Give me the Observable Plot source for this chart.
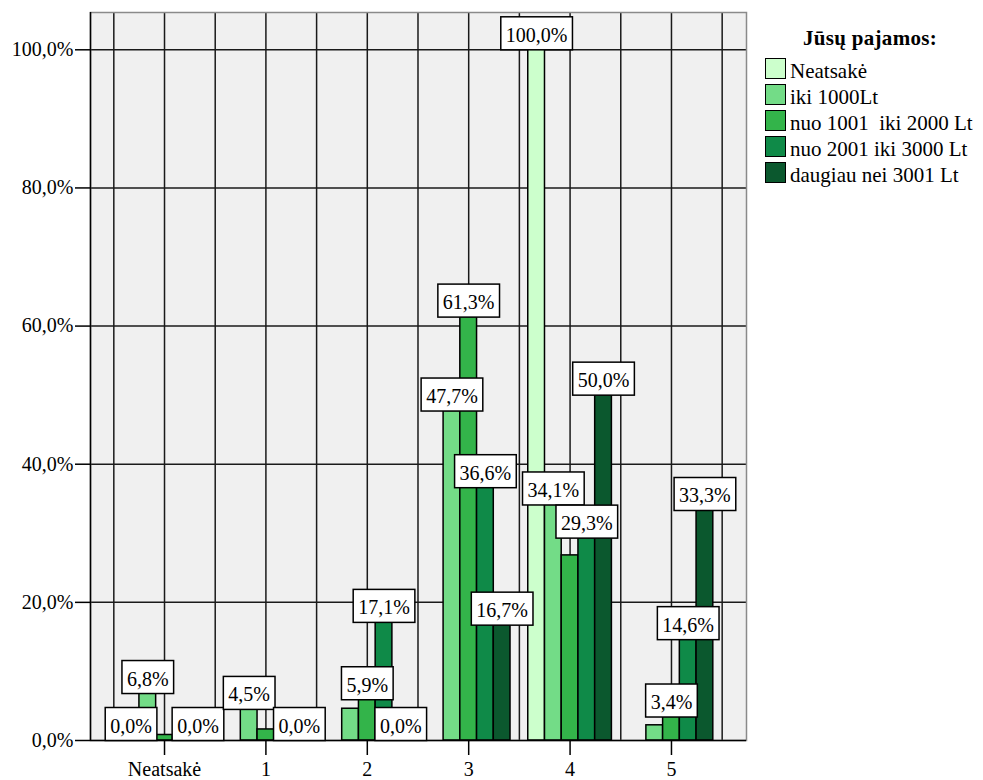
<!DOCTYPE html>
<html>
<head>
<meta charset="utf-8">
<script src="https://cdn.jsdelivr.net/npm/d3@7"></script>
<script src="https://cdn.jsdelivr.net/npm/@observablehq/plot@0.6"></script>
<style>
  body { margin: 0; background: #fff; }
  #chart { position: relative; width: 983px; height: 780px; font-family: "Liberation Serif", "Times New Roman", serif; color: #000; }
  #chart svg { position: absolute; left: 0; top: 0; }
  #legend { position: absolute; left: 765px; top: 25px; width: 215px; }
  #legend .title { font-weight: bold; font-size: 21px; line-height: 26px; text-align: center; width: 210px; letter-spacing: 0.3px; }
  #legend .rows { margin-top: 7px; }
  #legend .row { display: flex; align-items: flex-start; height: 26px; font-size: 21px; line-height: 26px; white-space: pre; }
  #legend .sw { box-sizing: border-box; width: 21px; height: 21px; border: 1.5px solid #000; margin-right: 4px; margin-top: 0px; }
</style>
</head>
<body>
<div id="chart"></div>
<script>
// Answer categories on the x axis
const categories = ["Neatsakė", "1", "2", "3", "4", "5"];

// Income groups (legend "Jūsų pajamos:")
const seriesNames = ["Neatsakė", "iki 1000Lt", "nuo 1001  iki 2000 Lt", "nuo 2001 iki 3000 Lt", "daugiau nei 3001 Lt"];
const seriesColors = ["#ccffcc", "#73dc87", "#33b44a", "#0f8a48", "#0b582e"];

// Percent within each income group, per category (null = no bar)
const valuesNeatsake = [0.0, null, null, null, 100.0, null];
const valuesIki1000  = [6.8, 4.5, 4.6, 47.7, 34.1, 2.2];
const values1001     = [0.8, 1.6, 5.9, 61.3, 26.8, 3.4];
const values2001     = [null, null, 17.1, 36.6, 29.3, 14.6];
const values3001     = [0.0, 0.0, 0.0, 16.7, 50.0, 33.3];
const seriesValues = [valuesNeatsake, valuesIki1000, values1001, values2001, values3001];

// Bars that carry a value label: [series index, category index]
const labelledBars = [
  [0, 0], [1, 0], [4, 0],
  [1, 1], [4, 1],
  [2, 2], [3, 2], [4, 2],
  [1, 3], [2, 3], [3, 3], [4, 3],
  [0, 4], [1, 4], [3, 4], [4, 4],
  [2, 5], [3, 5], [4, 5]
];

const yTicks = [0, 20, 40, 60, 80, 100];

// Build tables for the marks
const barWidth = 0.165; // share of one category step taken by each bar
const bars = [];
seriesValues.forEach((vals, si) => vals.forEach((v, ci) => {
  if (v != null && v > 0) bars.push({si, ci, series: seriesNames[si], value: v});
}));
const labels = labelledBars.map(([si, ci]) => ({si, ci, value: seriesValues[si][ci]}));
const fmt = v => v.toFixed(1).replace(".", ",") + "%";
const gridX = d3.range(-0.5, categories.length, 0.5);

const plot = Plot.plot({
  width: 983,
  height: 780,
  marginLeft: 90,
  marginRight: 237,
  marginTop: 12,
  marginBottom: 40,
  style: {fontFamily: "Liberation Serif, Times New Roman, serif", fontSize: "20px", background: "transparent", color: "#000"},
  x: {type: "linear", domain: [-0.73, 5.74], axis: null},
  y: {domain: [0, 105.4], axis: null},
  color: {domain: seriesNames, range: seriesColors},
  marks: [
    Plot.frame({fill: "#f0f0f0"}),
    Plot.ruleX(gridX, {stroke: "#1a1a1a", strokeWidth: 1.5}),
    Plot.ruleY(yTicks.slice(1), {stroke: "#1a1a1a", strokeWidth: 1.5}),
    Plot.frame({stroke: "#8a8a8a", strokeWidth: 1.5}),
    Plot.rectY(bars, {
      x1: d => d.ci + (d.si - 2.5) * barWidth,
      x2: d => d.ci + (d.si - 1.5) * barWidth,
      y1: 0,
      y2: "value",
      fill: "series",
      stroke: "#000",
      strokeWidth: 1.5
    }),
    Plot.ruleX([-0.73], {stroke: "#000", strokeWidth: 1.5}),
    Plot.ruleY([0], {stroke: "#000", strokeWidth: 1.5}),
    Plot.axisY({ticks: yTicks, tickFormat: fmt, tickSize: 15, tickPadding: 2, strokeWidth: 1.5, fontSize: 20, label: null}),
    Plot.axisX({ticks: d3.range(categories.length), tickFormat: i => categories[i], tickSize: 15, tickPadding: 6, strokeWidth: 1.5, fontSize: 20, label: null}),
    Plot.text(labels, {
      x: d => d.ci + (d.si - 2) * barWidth,
      y: "value",
      text: d => fmt(d.value),
      lineAnchor: "bottom",
      dy: -8,
      fontSize: 20,
      fill: "#000",
      ariaLabel: () => "value-label"
    })
  ]
});

const chart = document.getElementById("chart");
chart.appendChild(plot);

// White boxed background behind each value label
for (const t of Array.from(plot.querySelectorAll('text[aria-label="value-label"]'))) {
  const bb = t.getBBox();
  const r = document.createElementNS("http://www.w3.org/2000/svg", "rect");
  r.setAttribute("x", bb.x - 5);
  r.setAttribute("width", bb.width + 10);
  r.setAttribute("y", -25);
  r.setAttribute("height", 33);
  r.setAttribute("fill", "#fff");
  r.setAttribute("stroke", "#000");
  r.setAttribute("stroke-width", 1.5);
  const tr = t.getAttribute("transform");
  if (tr) r.setAttribute("transform", tr);
  t.parentNode.insertBefore(r, t);
}

// Legend
const legend = document.createElement("div");
legend.id = "legend";
const title = document.createElement("div");
title.className = "title";
title.textContent = "Jūsų pajamos:";
legend.appendChild(title);
const rows = document.createElement("div");
rows.className = "rows";
seriesNames.forEach((name, i) => {
  const row = document.createElement("div");
  row.className = "row";
  const sw = document.createElement("span");
  sw.className = "sw";
  sw.style.background = seriesColors[i];
  const lab = document.createElement("span");
  lab.textContent = name;
  row.appendChild(sw);
  row.appendChild(lab);
  rows.appendChild(row);
});
legend.appendChild(rows);
chart.appendChild(legend);
</script>
</body>
</html>
